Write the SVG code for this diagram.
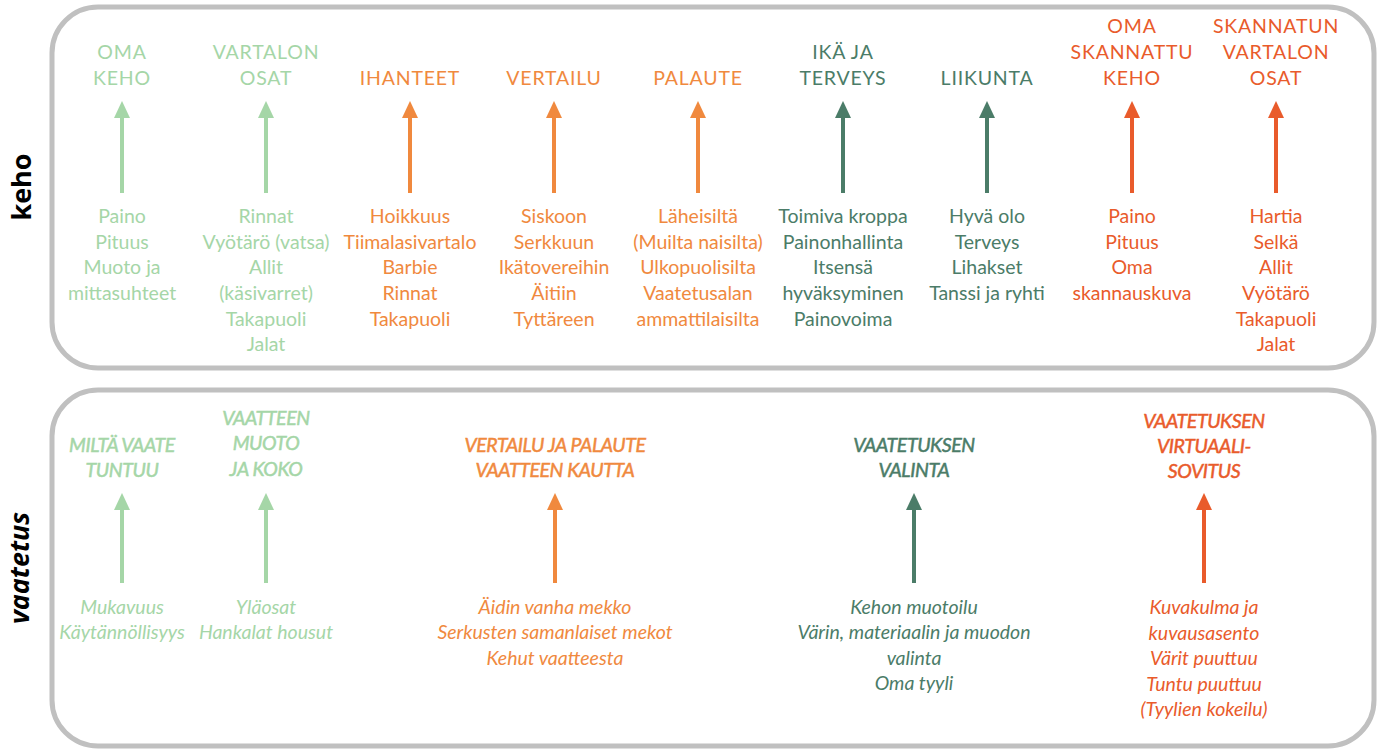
<svg xmlns="http://www.w3.org/2000/svg" width="1381" height="751" viewBox="0 0 1381 751">
<style>
  .panel { fill: #ffffff; stroke: #c0c0c0; stroke-width: 5; }
  .side { font-family: "Open Sans", "Liberation Sans", sans-serif; font-weight: bold; font-size: 27px; fill: #000000; text-anchor: middle; }
  .t { font-family: Lato, "Liberation Sans", sans-serif; font-size: 19.5px; text-anchor: middle; }
  .ti { letter-spacing: 0.8px; }
  .it { font-style: italic; }
  .itb { font-style: italic; letter-spacing: -0.4px; stroke-width: 0.5px; }
  .lg { fill: #a5d6a7; stroke: #a5d6a7; stroke-width: 0; }
  .or { fill: #f0893e; stroke: #f0893e; stroke-width: 0; }
  .dg { fill: #4b7c68; stroke: #4b7c68; stroke-width: 0; }
  .rd { fill: #e95b2b; stroke: #e95b2b; stroke-width: 0; }
  .a { stroke-width: 4; fill: none; }
  .alg { stroke: #a5d6a7; marker-end: url(#mlg); }
  .aor { stroke: #f0893e; marker-end: url(#mor); }
  .adg { stroke: #4b7c68; marker-end: url(#mdg); }
  .ard { stroke: #e95b2b; marker-end: url(#mrd); }
</style>
<defs>
  <marker id="mlg" markerUnits="userSpaceOnUse" markerWidth="17" markerHeight="17" refX="0" refY="8" orient="auto" overflow="visible"><path d="M0,0 L17,8 L0,16 z" fill="#a5d6a7"/></marker>
  <marker id="mor" markerUnits="userSpaceOnUse" markerWidth="17" markerHeight="17" refX="0" refY="8" orient="auto" overflow="visible"><path d="M0,0 L17,8 L0,16 z" fill="#f0893e"/></marker>
  <marker id="mdg" markerUnits="userSpaceOnUse" markerWidth="17" markerHeight="17" refX="0" refY="8" orient="auto" overflow="visible"><path d="M0,0 L17,8 L0,16 z" fill="#4b7c68"/></marker>
  <marker id="mrd" markerUnits="userSpaceOnUse" markerWidth="17" markerHeight="17" refX="0" refY="8" orient="auto" overflow="visible"><path d="M0,0 L17,8 L0,16 z" fill="#e95b2b"/></marker>
</defs>
<rect width="1381" height="751" fill="#ffffff"/>

<g id="panel-keho">
  <rect class="panel" x="52" y="7" width="1322" height="361" rx="46" ry="46"/>
  <text class="side" transform="translate(31,187) rotate(-90)">keho</text>
</g>
<g id="panel-vaatetus">
  <rect class="panel" x="52" y="390" width="1322" height="356" rx="46" ry="46"/>
  <text class="side it" transform="translate(29,568) rotate(-90)">vaatetus</text>
</g>

<g id="connectors">
  <line class="a alg" x1="122" y1="193" x2="122" y2="118"/>
  <line class="a alg" x1="266" y1="193" x2="266" y2="118"/>
  <line class="a aor" x1="410" y1="193" x2="410" y2="118"/>
  <line class="a aor" x1="554" y1="193" x2="554" y2="118"/>
  <line class="a aor" x1="698" y1="193" x2="698" y2="118"/>
  <line class="a adg" x1="843" y1="193" x2="843" y2="118"/>
  <line class="a adg" x1="987" y1="193" x2="987" y2="118"/>
  <line class="a ard" x1="1132" y1="193" x2="1132" y2="118"/>
  <line class="a ard" x1="1276" y1="193" x2="1276" y2="118"/>
  <line class="a alg" x1="122" y1="583" x2="122" y2="510"/>
  <line class="a alg" x1="266" y1="583" x2="266" y2="510"/>
  <line class="a aor" x1="555" y1="583" x2="555" y2="510"/>
  <line class="a adg" x1="914" y1="583" x2="914" y2="510"/>
  <line class="a ard" x1="1204" y1="583" x2="1204" y2="510"/>
</g>

<g id="oma-keho" class="t lg">
  <text class="ti" x="122" y="59">OMA</text>
  <text class="ti" x="122" y="85">KEHO</text>
  <text x="122" y="223">Paino</text>
  <text x="122" y="249">Pituus</text>
  <text x="122" y="274">Muoto ja</text>
  <text x="122" y="300">mittasuhteet</text>
</g>
<g id="vartalon-osat" class="t lg">
  <text class="ti" x="266" y="59">VARTALON</text>
  <text class="ti" x="266" y="85">OSAT</text>
  <text x="266" y="223">Rinnat</text>
  <text x="266" y="249">Vyötärö (vatsa)</text>
  <text x="266" y="274">Allit</text>
  <text x="266" y="300">(käsivarret)</text>
  <text x="266" y="326">Takapuoli</text>
  <text x="266" y="351">Jalat</text>
</g>
<g id="ihanteet" class="t or">
  <text class="ti" x="410" y="85">IHANTEET</text>
  <text x="410" y="223">Hoikkuus</text>
  <text x="410" y="249">Tiimalasivartalo</text>
  <text x="410" y="274">Barbie</text>
  <text x="410" y="300">Rinnat</text>
  <text x="410" y="326">Takapuoli</text>
</g>
<g id="vertailu" class="t or">
  <text class="ti" x="554" y="85">VERTAILU</text>
  <text x="554" y="223">Siskoon</text>
  <text x="554" y="249">Serkkuun</text>
  <text x="554" y="274">Ikätovereihin</text>
  <text x="554" y="300">Äitiin</text>
  <text x="554" y="326">Tyttäreen</text>
</g>
<g id="palaute" class="t or">
  <text class="ti" x="698" y="85">PALAUTE</text>
  <text x="698" y="223">Läheisiltä</text>
  <text x="698" y="249">(Muilta naisilta)</text>
  <text x="698" y="274">Ulkopuolisilta</text>
  <text x="698" y="300">Vaatetusalan</text>
  <text x="698" y="326">ammattilaisilta</text>
</g>
<g id="ika-ja-terveys" class="t dg">
  <text class="ti" x="843" y="59">IKÄ JA</text>
  <text class="ti" x="843" y="85">TERVEYS</text>
  <text x="843" y="223">Toimiva kroppa</text>
  <text x="843" y="249">Painonhallinta</text>
  <text x="843" y="274">Itsensä</text>
  <text x="843" y="300">hyväksyminen</text>
  <text x="843" y="326">Painovoima</text>
</g>
<g id="liikunta" class="t dg">
  <text class="ti" x="987" y="85">LIIKUNTA</text>
  <text x="987" y="223">Hyvä olo</text>
  <text x="987" y="249">Terveys</text>
  <text x="987" y="274">Lihakset</text>
  <text x="987" y="300">Tanssi ja ryhti</text>
</g>
<g id="oma-skannattu-keho" class="t rd">
  <text class="ti" x="1132" y="33">OMA</text>
  <text class="ti" x="1132" y="59">SKANNATTU</text>
  <text class="ti" x="1132" y="85">KEHO</text>
  <text x="1132" y="223">Paino</text>
  <text x="1132" y="249">Pituus</text>
  <text x="1132" y="274">Oma</text>
  <text x="1132" y="300">skannauskuva</text>
</g>
<g id="skannatun-vartalon-osat" class="t rd">
  <text class="ti" x="1276" y="33">SKANNATUN</text>
  <text class="ti" x="1276" y="59">VARTALON</text>
  <text class="ti" x="1276" y="85">OSAT</text>
  <text x="1276" y="223">Hartia</text>
  <text x="1276" y="249">Selkä</text>
  <text x="1276" y="274">Allit</text>
  <text x="1276" y="300">Vyötärö</text>
  <text x="1276" y="326">Takapuoli</text>
  <text x="1276" y="351">Jalat</text>
</g>

<g id="milta-vaate-tuntuu" class="t lg">
  <text class="itb" x="122" y="452">MILTÄ VAATE</text>
  <text class="itb" x="122" y="477">TUNTUU</text>
  <text class="it" x="122" y="614">Mukavuus</text>
  <text class="it" x="122" y="639">Käytännöllisyys</text>
</g>
<g id="vaatteen-muoto" class="t lg">
  <text class="itb" x="266" y="425">VAATTEEN</text>
  <text class="itb" x="266" y="450">MUOTO</text>
  <text class="itb" x="266" y="476">JA KOKO</text>
  <text class="it" x="266" y="614">Yläosat</text>
  <text class="it" x="266" y="639">Hankalat housut</text>
</g>
<g id="vertailu-ja-palaute" class="t or">
  <text class="itb" x="555" y="452">VERTAILU JA PALAUTE</text>
  <text class="itb" x="555" y="477">VAATTEEN KAUTTA</text>
  <text class="it" x="555" y="614">Äidin vanha mekko</text>
  <text class="it" x="555" y="639">Serkusten samanlaiset mekot</text>
  <text class="it" x="555" y="665">Kehut vaatteesta</text>
</g>
<g id="vaatetuksen-valinta" class="t dg">
  <text class="itb" x="914" y="452">VAATETUKSEN</text>
  <text class="itb" x="914" y="477">VALINTA</text>
  <text class="it" x="914" y="614">Kehon muotoilu</text>
  <text class="it" x="914" y="639">Värin, materiaalin ja muodon</text>
  <text class="it" x="914" y="665">valinta</text>
  <text class="it" x="914" y="690">Oma tyyli</text>
</g>
<g id="virtuaalisovitus" class="t rd">
  <text class="itb" x="1204" y="428">VAATETUKSEN</text>
  <text class="itb" x="1204" y="453">VIRTUAALI-</text>
  <text class="itb" x="1204" y="478">SOVITUS</text>
  <text class="it" x="1204" y="614">Kuvakulma ja</text>
  <text class="it" x="1204" y="640">kuvausasento</text>
  <text class="it" x="1204" y="665">Värit puuttuu</text>
  <text class="it" x="1204" y="691">Tuntu puuttuu</text>
  <text class="it" x="1204" y="716">(Tyylien kokeilu)</text>
</g>
</svg>
